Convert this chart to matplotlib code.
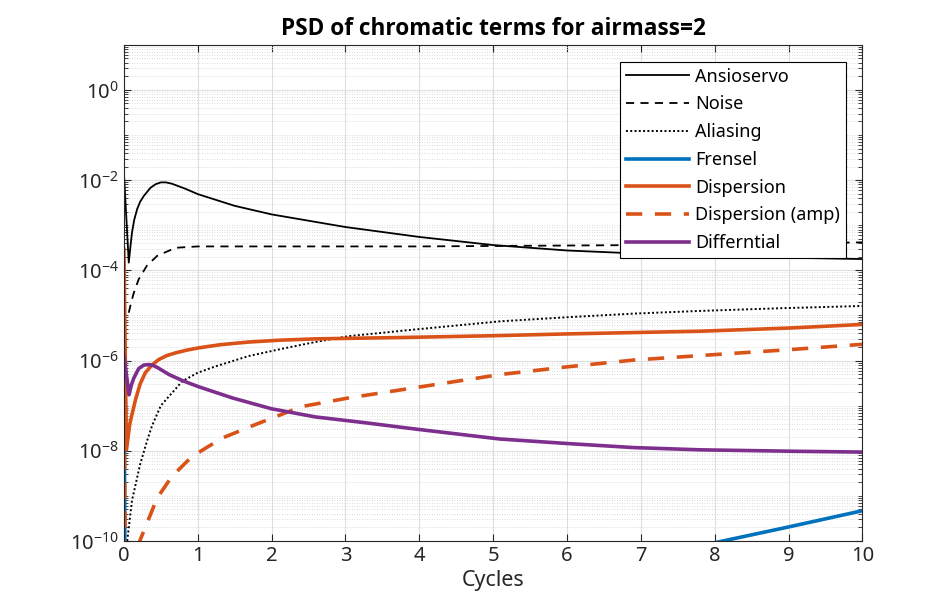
import numpy as np
import matplotlib
matplotlib.use("Agg")
import matplotlib.pyplot as plt
from matplotlib.ticker import FixedLocator, LogLocator, FuncFormatter, NullFormatter

plt.rcParams['font.family'] = ['Noto Sans', 'DejaVu Sans']

# ---- data (log10 of PSD values) ----
ansio_x = [0, 0.066, 0.09, 0.11, 0.14, 0.18, 0.22, 0.27, 0.36, 0.43, 0.5, 0.57, 0.65, 0.83, 1.0,
           1.5, 2, 3, 4, 5, 6, 7, 8, 9, 10]
ansio_log = [-1.83, -3.83, -3.45, -3.16, -2.88, -2.64, -2.48, -2.35, -2.17, -2.09, -2.05, -2.05,
             -2.08, -2.19, -2.31, -2.57, -2.76, -3.04, -3.26, -3.44, -3.56, -3.63, -3.68, -3.72, -3.75]

noise_x = [0.066, 0.1, 0.134, 0.2, 0.31, 0.45, 0.7, 1.0, 2, 4, 6, 7, 8, 10]
noise_log = [-4.94, -4.7, -4.5, -4.2, -3.9, -3.68, -3.5, -3.47, -3.47, -3.47, -3.45, -3.44, -3.42, -3.38]

alias_x = [0.045, 0.11, 0.22, 0.31, 0.38, 0.5, 0.79, 1.0, 1.24, 1.69, 2.14, 2.59, 3.04, 3.95, 5.1,
           6.0, 6.9, 7.8, 8.9, 10]
alias_log = [-10.0, -9.1, -8.3, -7.8, -7.45, -7.0, -6.46, -6.27, -6.13, -5.90, -5.74, -5.59, -5.46,
             -5.31, -5.13, -5.04, -4.96, -4.90, -4.84, -4.79]

fren_x = [0, 0.015, 0.05, 1, 2, 4, 6, 8, 9, 10]
fren_log = [-5.2, -11.0, -13.0, -12.5, -12.2, -11.5, -10.8, -10.04, -9.69, -9.33]

disp_x = [0, 0.035, 0.08, 0.157, 0.22, 0.29, 0.38, 0.47, 0.58, 0.70, 0.85, 1.01, 1.3, 1.69, 2.1,
          2.59, 3.74, 5.0, 6.0, 7.8, 9, 10]
disp_log = [-3.53, -7.98, -7.4, -6.87, -6.52, -6.27, -6.1, -5.98, -5.89, -5.83, -5.77, -5.72,
            -5.65, -5.59, -5.55, -5.52, -5.49, -5.45, -5.41, -5.35, -5.28, -5.20]

amp_x = [0, 0.02, 0.22, 0.45, 0.65, 0.92, 1.33, 1.78, 2.41, 3.04, 3.95, 5.1, 6.0, 6.9, 7.8, 9, 10]
amp_log = [-5.5, -11.0, -9.98, -9.05, -8.57, -8.13, -7.72, -7.42, -7.02, -6.83, -6.6, -6.31,
           -6.14, -5.99, -5.89, -5.76, -5.64]

diff_x = [0, 0.07, 0.1, 0.134, 0.2, 0.27, 0.34, 0.4, 0.47, 0.61, 0.8, 1.01, 1.47, 2.0, 2.59, 3.27,
          3.95, 5.09, 6.0, 6.9, 7.8, 9, 10]
diff_log = [-5.9, -6.76, -6.55, -6.39, -6.18, -6.1, -6.09, -6.11, -6.17, -6.31, -6.45, -6.58,
            -6.83, -7.07, -7.25, -7.38, -7.52, -7.74, -7.84, -7.93, -7.98, -8.01, -8.03]

labels = ['Ansioservo', 'Noise', 'Aliasing', 'Frensel', 'Dispersion', 'Dispersion (amp)', 'Differntial']
title = 'PSD of chromatic terms for airmass=2'
xlabel = 'Cycles'
xticks = list(range(0, 11))
ydecades = [-10, -8, -6, -4, -2, 0]

blue = '#0072BD'
orange = '#D95319'
purple = '#7E2F8E'
tc = '#262626'

fig = plt.figure(figsize=(9.53, 6.14), dpi=100)
ax = fig.add_axes([0.13, 0.119, 0.775, 0.808])

p = lambda a: 10.0 ** np.asarray(a)

ax.plot(ansio_x, p(ansio_log), color='black', lw=1.3, label=labels[0])
ax.plot(noise_x, p(noise_log), color='black', lw=1.3, ls=(0, (4.5, 3.5)), label=labels[1])
ax.plot(alias_x, p(alias_log), color='black', lw=1.4, ls=(0, (1, 1.2)), label=labels[2])
ax.plot(fren_x, p(fren_log), color=blue, lw=2.6, label=labels[3])
ax.plot(disp_x, p(disp_log), color=orange, lw=2.6, label=labels[4])
ax.plot(amp_x, p(amp_log), color=orange, lw=2.6, ls=(0, (4.5, 3.5)), label=labels[5])
ax.plot(diff_x, p(diff_log), color=purple, lw=2.6, label=labels[6])

ax.set_yscale('log')
ax.set_xlim(0, 10)
ax.set_ylim(1e-10, 1e1)
ax.xaxis.set_major_locator(FixedLocator(xticks))
ax.yaxis.set_major_locator(FixedLocator([10.0 ** d for d in ydecades]))
ax.yaxis.set_major_formatter(FuncFormatter(lambda v, pos: r'$\mathregular{10^{%d}}$' % int(round(np.log10(v)))))
ax.yaxis.set_minor_locator(LogLocator(base=10, subs=np.arange(1, 10), numticks=100))
ax.yaxis.set_minor_formatter(NullFormatter())

ax.grid(True, which='major', color='#dedede', lw=0.8, ls='-')
ax.grid(True, which='minor', axis='y', color='#cfcfcf', lw=0.6, ls=(0, (1, 2)))
ax.set_axisbelow(True)

ax.tick_params(which='both', direction='in', top=True, right=True, colors=tc, labelsize=14.5)
ax.tick_params(which='major', length=5, width=0.8)
ax.tick_params(which='minor', length=3, width=0.6)
for s in ax.spines.values():
    s.set_color(tc)
    s.set_linewidth(0.8)

ax.set_title(title, fontsize=16.3, fontweight='bold', family=['Open Sans', 'DejaVu Sans'],
             color='black', pad=7)
ax.set_xlabel(xlabel, fontsize=15.5, color=tc, labelpad=3)

leg = ax.legend(loc='upper right', bbox_to_anchor=(0.978, 0.966), fontsize=13, frameon=True,
                fancybox=False, edgecolor='black', framealpha=1, handlelength=3.5,
                handletextpad=0.35, labelspacing=0.54, borderpad=0.33, borderaxespad=0)
leg.get_frame().set_linewidth(0.8)

fig.savefig('out.png', dpi=100)
